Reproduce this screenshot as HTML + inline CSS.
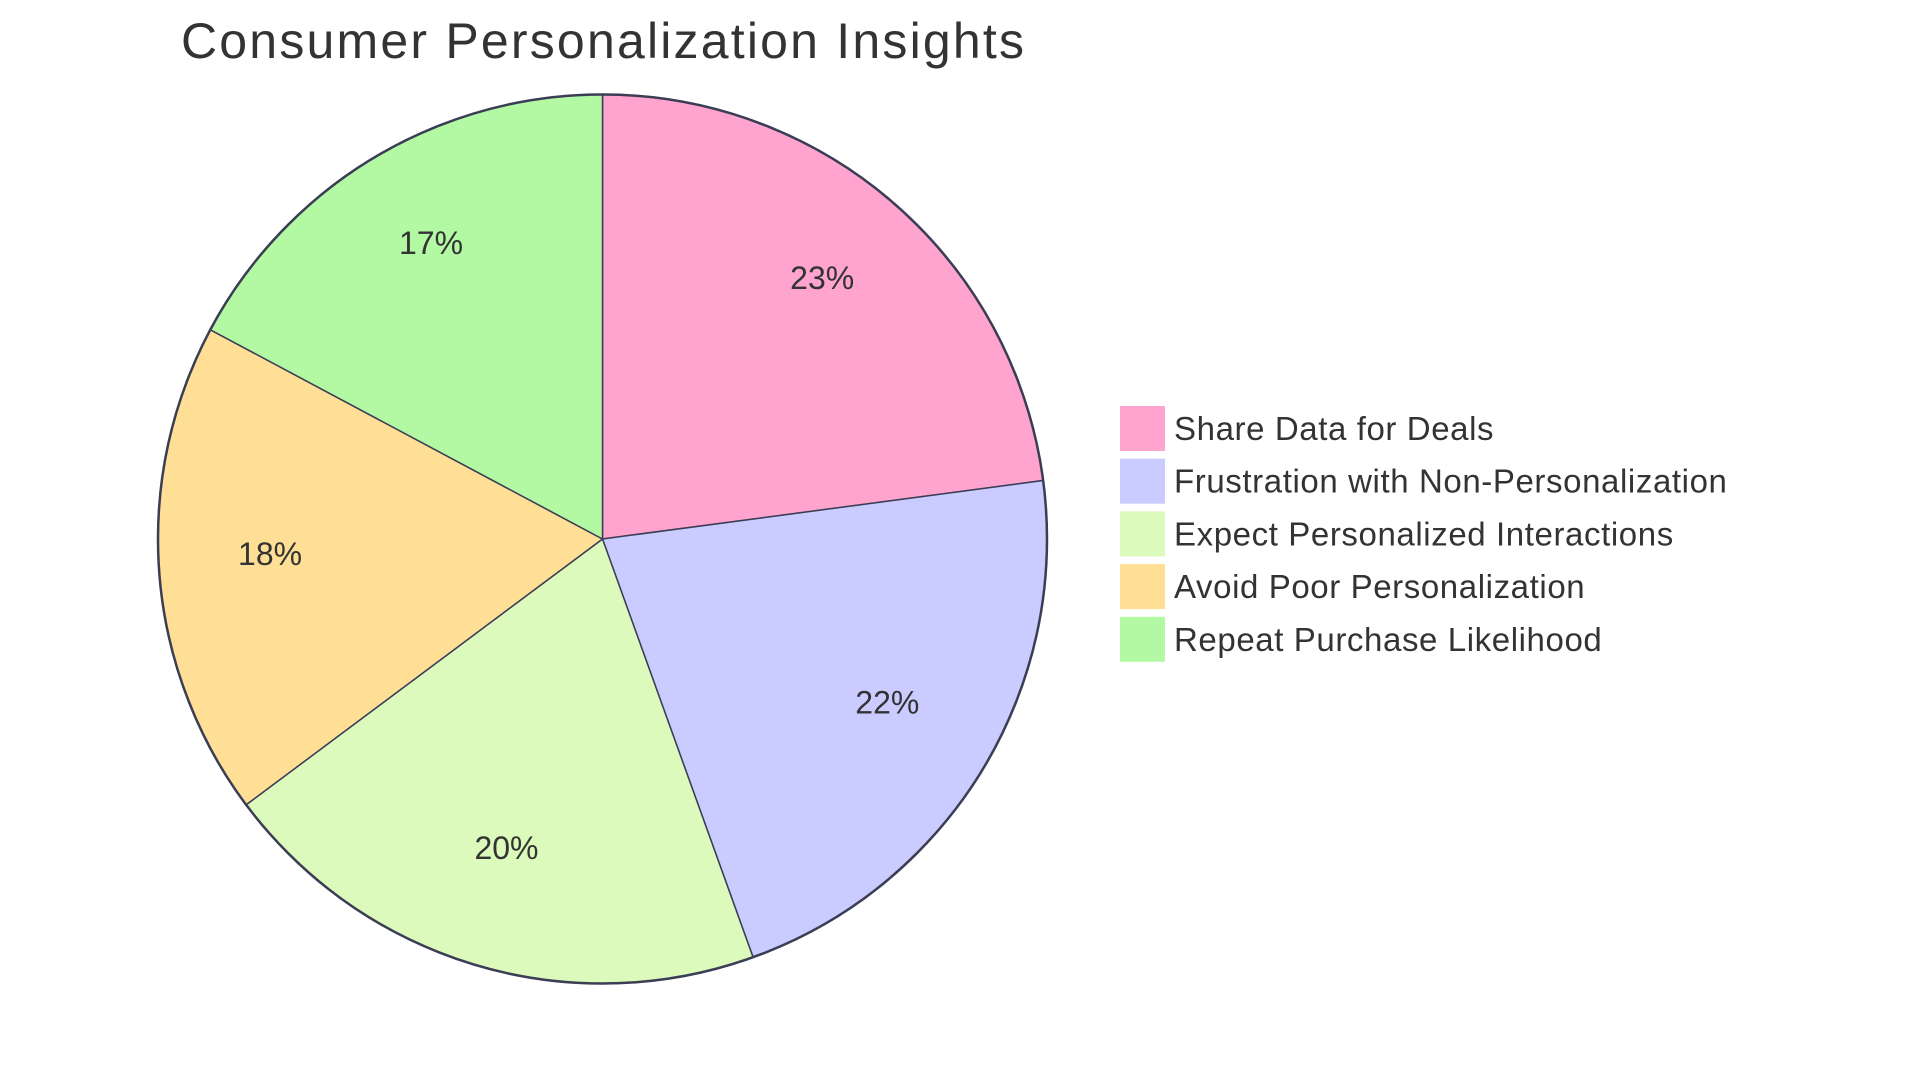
<!DOCTYPE html>
<html><head><meta charset="utf-8"><style>
html,body{margin:0;padding:0;background:#fff;}
svg{display:block;font-family:"Liberation Sans",sans-serif;}
</style></head><body>
<svg id="chart" width="1920" height="1083" viewBox="0 0 1920 1083">
<text x="181" y="58" font-size="50" fill="#333" textLength="843">Consumer Personalization Insights</text>
<g id="slices"></g>
<g id="labels"></g>
<circle cx="602.5" cy="539" r="444.5" fill="none" stroke="#3b3d55" stroke-width="2.5"/>
<g id="legend"></g>
</svg>
<script>
const categories=["Share Data for Deals","Frustration with Non-Personalization","Expect Personalized Interactions","Avoid Poor Personalization","Repeat Purchase Likelihood"];
const values=[22.9,21.6,20.3,18.0,17.2];
const colors=["#ffa3cf","#cacbfe","#dbfabb","#fedf95","#b3f8a3"];
const cx=602.5,cy=539,r=444.5;
const ns="http://www.w3.org/2000/svg";
const total=values.reduce((a,b)=>a+b,0);
function pt(a,rad){return [cx+rad*Math.sin(a),cy-rad*Math.cos(a)];}
let acc=0;
const gs=document.getElementById('slices'),gl=document.getElementById('labels'),gL=document.getElementById('legend');
values.forEach((v,i)=>{
  const a0=acc/total*2*Math.PI; acc+=v; const a1=acc/total*2*Math.PI;
  const p0=pt(a0,r),p1=pt(a1,r);
  const large=(a1-a0)>Math.PI?1:0;
  const p=document.createElementNS(ns,'path');
  p.setAttribute('d',`M${cx},${cy}L${p0[0]},${p0[1]}A${r},${r} 0 ${large} 1 ${p1[0]},${p1[1]}Z`);
  p.setAttribute('fill',colors[i]);p.setAttribute('stroke','#3b3d55');p.setAttribute('stroke-width','1.5');
  
  
  gs.appendChild(p);
  const m=(a0+a1)/2,lp=pt(m,r*0.75);
  const t=document.createElementNS(ns,'text');
  t.setAttribute('x',lp[0]);t.setAttribute('y',lp[1]+1);t.setAttribute('text-anchor','middle');
  t.setAttribute('font-size','32');t.setAttribute('fill','#333');
  t.textContent=Math.round(v/total*100)+'%';
  
  
  gl.appendChild(t);
  const y=406+i*52.7;
  const g=document.createElementNS(ns,'g');
  
  
  const rc=document.createElementNS(ns,'rect');
  rc.setAttribute('x',1120);rc.setAttribute('y',y);rc.setAttribute('width',45);rc.setAttribute('height',45);
  rc.setAttribute('fill',colors[i]);
  
  
  const tx=document.createElementNS(ns,'text');
  tx.setAttribute('x',1174);tx.setAttribute('y',y+34);tx.setAttribute('font-size','33');tx.setAttribute('fill','#333');
  tx.setAttribute('letter-spacing','0.6');
  tx.textContent=categories[i];
  
  
  g.appendChild(rc);g.appendChild(tx);gL.appendChild(g);
});
</script>
</body></html>
